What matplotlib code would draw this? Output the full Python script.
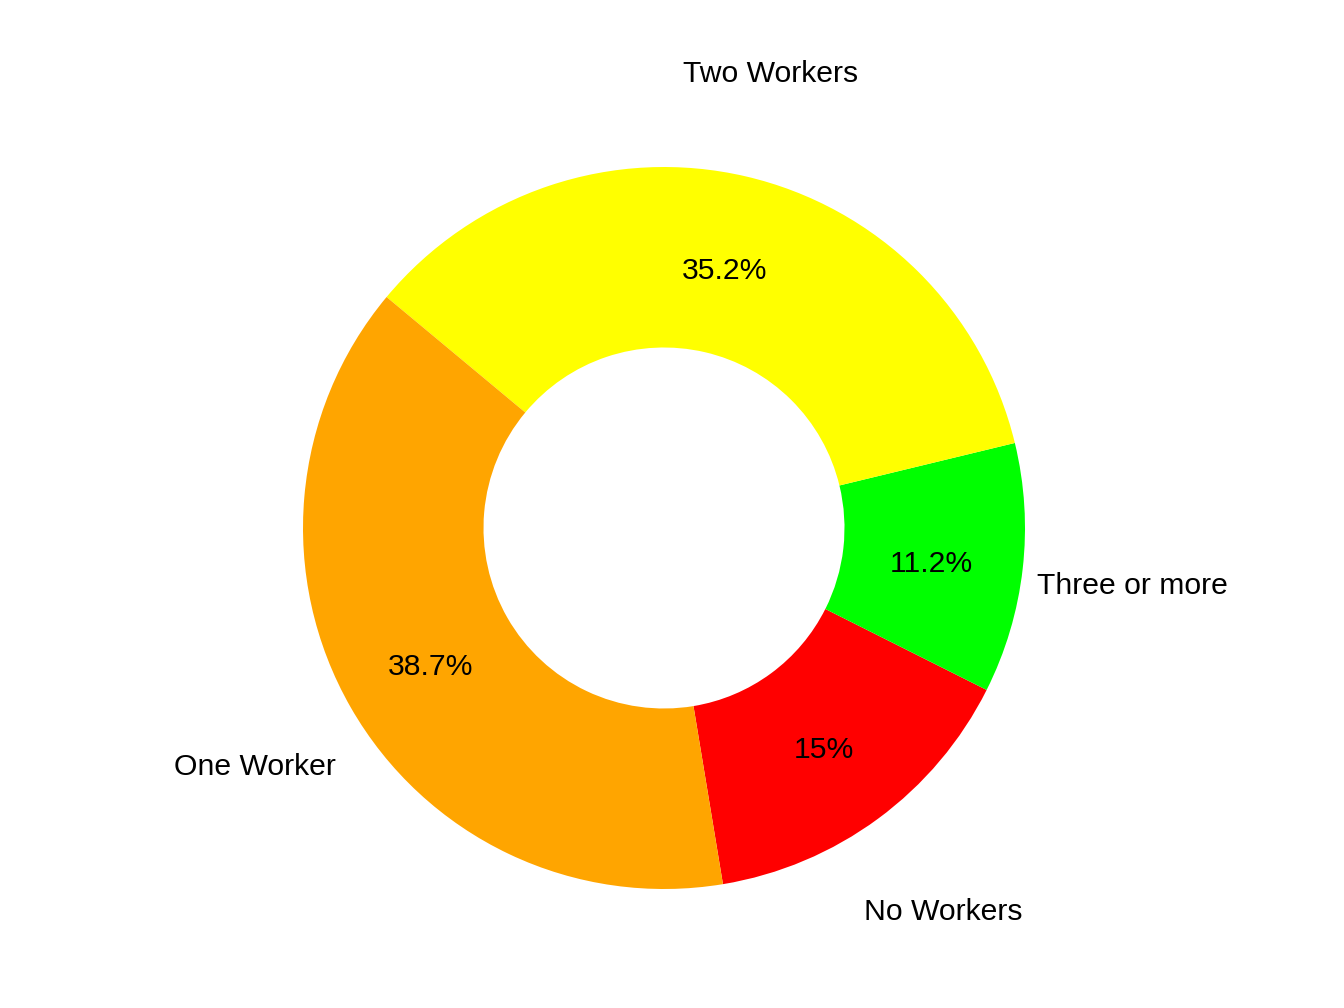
import matplotlib.pyplot as plt
from matplotlib import transforms

# household workers share
categories = ["No Workers", "Three or more", "Two Workers", "One Worker"]
shares = [15, 11.2, 35.2, 38.7]
colors = ["#FF0000", "#00FF00", "#FFFF00", "#FFA500"]

plt.rcParams['font.family'] = ['Liberation Sans', 'DejaVu Sans']

fig = plt.figure(figsize=(13.44, 10.08), dpi=100)
ax = fig.add_axes([0, 0, 1, 1])

def fmt(p):
    s = f"{p:.1f}"
    if s.endswith(".0"):
        s = s[:-2]
    return s + "%"

wedges, texts, autotexts = ax.pie(
    shares, labels=categories, colors=colors, startangle=-80.6,
    counterclock=True, autopct=fmt, pctdistance=0.745, labeldistance=1.305,
    wedgeprops=dict(width=0.5, linewidth=0),
    textprops=dict(fontsize=21.7, color="black"))

# nudge text down a few pixels
shift = transforms.offset_copy(ax.transData, fig=fig, x=0, y=-5, units="dots")
for t in texts + autotexts:
    t.set_ha("center")
    t.set_va("center")
    t.set_transform(shift)

# outer radius 361 px, centre at (664, 528) px
r = 361
ax.set_xlim(-664 / r, (1344 - 664) / r)
ax.set_ylim(-(1008 - 528) / r, 528 / r)
ax.set_aspect("auto")
ax.axis("off")

fig.savefig("out.png", dpi=100)
